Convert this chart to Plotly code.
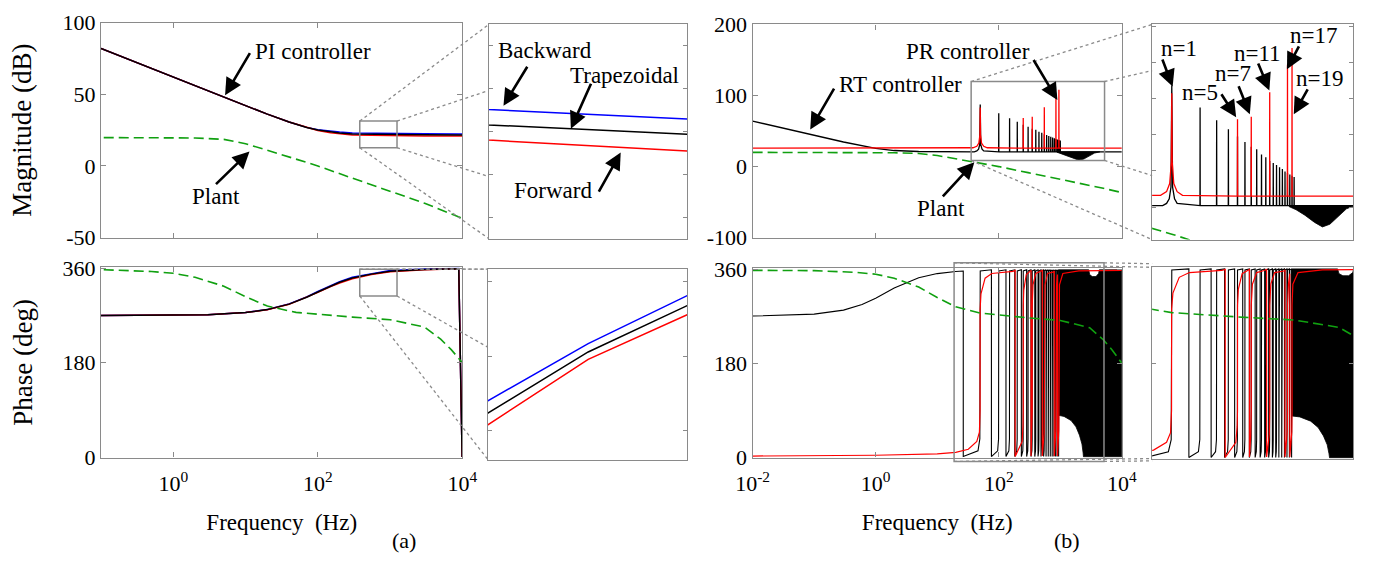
import math
import plotly.graph_objects as go

W, H = 1384, 571
FONT = "Liberation Serif, Times New Roman, serif"
GRAY = "#8a8a8a"
GREEN = "#10a010"

# ---------------- (a) PI controller (three discretisations) ----------------
f_pi = [0.1, 0.3, 1, 3, 10, 20, 40, 70, 100, 150, 200, 300, 550, 1000, 3000, 8900, 9900]
pi_mag_backward = [82.0, 72.5, 62.0, 52.5, 42.0, 36.1, 30.6, 26.9, 25.3, 24.1, 23.6, 23.03, 22.80, 22.58, 22.4, 22.3, 22.3]
pi_mag_trapezoidal = [82.0, 72.5, 62.0, 52.5, 42.0, 36.1, 30.6, 26.8, 25.0, 23.6, 23.0, 22.31, 22.08, 21.87, 21.7, 21.6, 21.6]
pi_mag_forward = [82.0, 72.5, 62.0, 52.5, 42.0, 36.1, 30.6, 26.7, 24.7, 23.1, 22.4, 21.60, 21.35, 21.09, 20.9, 20.8, 20.8]
pi_ph_backward = [270.1, 270.2, 270.6, 271.7, 275.8, 281.5, 292.2, 305.6, 315.8, 327.3, 334.6, 343.1, 350.0, 355.8, 358.8, 359.6, 0.0]
pi_ph_trapezoidal = [270.1, 270.2, 270.6, 271.7, 275.7, 281.3, 291.8, 305.0, 315.0, 326.3, 333.4, 341.6, 349.0, 354.6, 358.0, 359.4, 0.0]
pi_ph_forward = [270.1, 270.2, 270.6, 271.6, 275.6, 281.1, 291.4, 304.4, 314.2, 325.3, 332.2, 340.2, 348.1, 353.5, 357.2, 359.2, 0.0]

# ---------------- plant (both panels) ----------------
f_plant = [0.01, 0.1, 0.5, 1, 2, 5, 10, 20, 50, 100, 300, 1000, 3000, 5000, 7000, 10000]
plant_mag = [20.0, 20.0, 19.9, 19.8, 19.5, 18.5, 15.5, 11.0, 5.0, 0.0, -8.5, -17.5, -26.0, -30.5, -33.5, -36.5]
plant_ph = [358, 357.5, 354, 350.6, 343, 326, 306, 288, 276, 272, 267, 262, 248, 225, 205, 180]

# ---------------- (b) RT controller ----------------
fund = 50.0  # Hz
rt_f_low = [0.01, 0.03, 0.1, 0.3, 1, 2, 5, 10, 20, 40]
rt_mag_low = [64.0, 54.4, 44.0, 34.6, 25.7, 22.6, 21.2, 20.9, 20.8, 20.8]
rt_base = 20.8
rt_order = list(range(1, 21))
rt_peak = [87.4, 75.0, 68.0, 63.0, 59.0, 56.0, 53.3, 52.0, 49.0, 47.6,
           45.5, 44.4, 43.2, 42.0, 41.0, 39.7, 38.8, 38.0, 37.3, 36.6]
rt_n1_f = [44, 47, 49, 50, 51, 53.5, 57]
rt_n1_mag = [22.0, 24.5, 31.0, 87.4, 31.0, 24.5, 22.0]
rt_dip_f = [880, 1050, 1300, 1650, 2000, 2400, 2900, 3600, 4400]
rt_dip_mag = [20.3, 18.5, 15.5, 11.5, 9.0, 10.5, 14.5, 19.0, 20.8]

rt_ph_f_low = [0.01, 0.1, 0.3, 0.6, 1, 2, 5, 10, 20, 26.5]
rt_ph_low = [270.4, 274.0, 281.7, 292.5, 304.7, 324.2, 343.9, 351.8, 355.9, 356.8]
rt_wrap_f = [26.5, 76, 131, 182, 233, 284, 334, 385, 435, 486, 536, 587, 637, 688, 738, 789, 839, 890, 940]
rt_ph_top, rt_ph_bottom = 359.0, 1.0
rt_pre_df = [4.0, 0.7]
rt_pre_ph = [12.0, 35.0]
rt_dense_f = [940, 2900, 3000, 3300, 3800, 4200, 4300, 10000, 10000, 2380, 2350, 2250, 2050, 1800, 1500, 1150, 940]
rt_dense_ph = [359, 359, 350, 346, 346, 352, 359, 359, 0.5, 0.5, 8, 25, 42, 58, 70, 78, 80]

# ---------------- (b) PR controller ----------------
pr_base = 26.0
pr_order = [1, 5, 7, 11, 17, 19]
pr_peak = [83.0, 68.5, 70.0, 83.5, 98.7, 108.0]
pr_n1_f = [38, 44, 47.5, 49.5, 50, 50.5, 52.5, 57, 65]
pr_n1_mag = [26.5, 28.5, 33.0, 45.0, 83.0, 45.0, 33.0, 28.5, 26.5]
pr_ph_f = [0.01, 1, 10, 20, 32, 44, 48.5, 49.7, 49.8, 51.4, 60, 77, 170, 185, 185, 240, 248, 249.9, 250.1,
           255, 280, 320, 335, 335, 345, 349.9, 350.1, 360, 400, 480, 510, 510, 545, 549.9, 550.1, 565,
           620, 780, 800, 800, 845, 849.9, 850.1, 870, 890, 900, 900, 945, 949.9, 950.1, 970, 1100, 2000, 10000]
pr_ph = [2, 3.5, 6, 9, 15, 30, 48, 90, 283, 313, 343, 352, 356, 358, 1, 30, 60, 90, 290,
         320, 350, 356, 358, 2, 40, 90, 290, 330, 352, 356, 358, 2, 45, 90, 290, 330,
         352, 355, 357, 2, 50, 90, 290, 330, 345, 350, 2, 50, 90, 290, 330, 352, 357, 358]

# zoom windows drawn in the main plots
zoom_a_f, zoom_a_mag, zoom_a_ph = [380, 1245], [12.7, 31.3], [307.3, 358.4]
zoom_b_f, zoom_b_mag = [35.6, 5240], [8.6, 119.7]
zoom_b_phf, zoom_b_ph = [18.8, 5130], [-8.3, 372.4]


# ---------------- build helper series ----------------
def spike_series(f_lo, v_lo, orders, peaks, base, n1_f, n1_v, f_end):
    xs, ys = list(f_lo), list(v_lo)
    for n, pk in zip(orders, peaks):
        fn = fund * n
        if n == 1:
            xs += n1_f
            ys += n1_v
        else:
            xs += [fn * 0.997, fn, fn * 1.003]
            ys += [base, pk, base]
    xs.append(f_end)
    ys.append(base)
    return xs, ys


rt_mag_x, rt_mag_y = spike_series(rt_f_low, rt_mag_low, rt_order, rt_peak, rt_base, rt_n1_f, rt_n1_mag, 10000)
pr_mag_x, pr_mag_y = spike_series([0.01], [pr_base], pr_order, pr_peak, pr_base, pr_n1_f, pr_n1_mag, 10000)
dip_x = rt_dip_f + rt_dip_f[::-1]
dip_y = [rt_base] * len(rt_dip_f) + rt_dip_mag[::-1]

rt_ph_x, rt_ph_y = list(rt_ph_f_low), list(rt_ph_low)
for i, n in enumerate(range(1, 20)):
    fn = fund * n
    rt_ph_x += [rt_wrap_f[i], fn - rt_pre_df[0], fn - rt_pre_df[1], fn]
    rt_ph_y += [rt_ph_bottom, rt_pre_ph[0], rt_pre_ph[1], rt_ph_top - 2]
    if i + 1 < len(rt_wrap_f):
        rt_ph_x += [rt_wrap_f[i + 1]]
        rt_ph_y += [rt_ph_top]

# ---------------- axes geometry ----------------
def dom_x(a, b):
    return [a / W, b / W]


def dom_y(top, bottom):
    return [1 - bottom / H, 1 - top / H]


AX = {
    1: dict(xd=dom_x(86, 456), yd=dom_y(11, 236), xr=[-1.0, 4.0005], yr=[-50, 100]),
    2: dict(xd=dom_x(483, 686), yd=dom_y(13, 237), xr=[math.log10(300), 3.0], yr=[17, 27]),
    3: dict(xd=dom_x(86, 456), yd=dom_y(267, 466), xr=[-1.0, 4.0005], yr=[-1, 362]),
    4: dict(xd=dom_x(482, 686), yd=dom_y(269, 468), xr=[math.log10(300), 3.0], yr=[336, 359]),
    5: dict(xd=dom_x(753, 1131), yd=dom_y(13, 236), xr=[-2.0005, 4.0005], yr=[-100, 200]),
    6: dict(xd=dom_x(1162, 1368), yd=dom_y(13, 238), xr=[1.49, 3.63], yr=[2, 121]),
    7: dict(xd=dom_x(753, 1131), yd=dom_y(268, 466), xr=[-2.0005, 4.0005], yr=[-1, 362]),
    8: dict(xd=dom_x(1162, 1368), yd=dom_y(267, 467), xr=[1.49, 3.63], yr=[-1, 362]),
}


def to_paper(k, f, v):
    a = AX[k]
    lx = math.log10(f)
    X = a['xd'][0] + (lx - a['xr'][0]) / (a['xr'][1] - a['xr'][0]) * (a['xd'][1] - a['xd'][0])
    Y = a['yd'][0] + (v - a['yr'][0]) / (a['yr'][1] - a['yr'][0]) * (a['yd'][1] - a['yd'][0])
    return X, Y


fig = go.Figure()


def add(k, x, y, color, width=1.5, dash=None, fill=None, fillcolor=None):
    ax = '' if k == 1 else str(k)
    fig.add_trace(go.Scatter(x=x, y=y, mode='lines', xaxis='x' + ax, yaxis='y' + ax,
                             line=dict(color=color, width=width, dash=dash),
                             fill=fill, fillcolor=fillcolor, hoverinfo='skip'))


# (a) magnitude + inset
for k in (1, 2):
    add(k, f_pi, pi_mag_backward, '#0000ff')
    add(k, f_pi, pi_mag_forward, '#ff0000')
    add(k, f_pi, pi_mag_trapezoidal, '#000000')
    add(k, f_plant, plant_mag, GREEN, 1.6, '10px,5px')
# (a) phase + inset
for k in (3, 4):
    add(k, f_pi, pi_ph_backward, '#0000ff')
    add(k, f_pi, pi_ph_forward, '#ff0000')
    add(k, f_pi, pi_ph_trapezoidal, '#000000')
    add(k, f_plant, plant_ph, GREEN, 1.6, '10px,5px')
# (b) magnitude + inset
for k in (5, 6):
    add(k, dip_x, dip_y, '#000000', 0.8, fill='toself', fillcolor='#000000')
    add(k, rt_mag_x, rt_mag_y, '#000000', 1.3)
    add(k, pr_mag_x, pr_mag_y, '#ff0000', 1.3)
    add(k, f_plant, plant_mag, GREEN, 1.6, '10px,5px')
# (b) phase + inset
for k in (7, 8):
    add(k, rt_dense_f, rt_dense_ph, '#000000', 0.8, fill='toself', fillcolor='#000000')
    add(k, rt_ph_x, rt_ph_y, '#000000', 1.1)
    add(k, pr_ph_f, pr_ph, '#ff0000', 1.2)
    add(k, f_plant, plant_ph, GREEN, 1.6, '10px,5px')

tickfont = dict(family=FONT, size=22, color='black')


def sup(n):
    return '10<sup>%d</sup>' % n


layout = dict(width=W, height=H, margin=dict(l=0, r=0, t=0, b=0), showlegend=False,
              paper_bgcolor='white', plot_bgcolor='white', font=dict(family=FONT, color='black'))

for k, a in AX.items():
    sx = '' if k == 1 else str(k)
    main = k in (1, 3, 5, 7)
    xa = dict(domain=a['xd'], range=a['xr'], type='log', anchor='y' + sx, showline=True, mirror=True,
              linecolor=GRAY, linewidth=1.3, showgrid=False, zeroline=False, fixedrange=True)
    ya = dict(domain=a['yd'], range=a['yr'], anchor='x' + sx, showline=True, mirror=True,
              linecolor=GRAY, linewidth=1.3, showgrid=False, zeroline=False, fixedrange=True)
    if main:
        if k in (1, 3):
            xt = [1, 100, 10000]
        else:
            xt = [0.01, 1, 100, 10000]
        xa.update(ticks='inside', mirror='ticks', ticklen=5, tickcolor=GRAY, tickvals=xt,
                  ticktext=[sup(round(math.log10(v))) for v in xt], showticklabels=k in (3, 7),
                  tickfont=tickfont, ticklabelstandoff=6)
        if k == 1:
            yt = [-50, 0, 50, 100]
        elif k == 5:
            yt = [-100, 0, 100, 200]
        else:
            yt = [0, 180, 360]
        ya.update(ticks='inside', mirror='ticks', ticklen=5, tickcolor=GRAY, tickvals=yt,
                  ticktext=[str(v) for v in yt], tickfont=tickfont)
        if k in (3, 7):
            xa['title'] = dict(text='Frequency\u00a0 (Hz)', font=dict(family=FONT, size=23), standoff=18)
        if k == 1:
            ya['title'] = dict(text='Magnitude (dB)', font=dict(family=FONT, size=27), standoff=22)
        if k == 3:
            ya['title'] = dict(text='Phase (deg)', font=dict(family=FONT, size=27), standoff=22)
    else:
        xa.update(ticks='', showticklabels=False)
        if k == 2:
            yt = [18, 20, 22, 24, 26]
        elif k == 4:
            yt = [339.5, 348.5, 357.5]
        elif k == 6:
            yt = [20, 40, 60, 80, 100, 120]
        else:
            yt = [180]
        ya.update(ticks='inside', mirror='ticks', ticklen=4, tickcolor=GRAY, tickvals=yt,
                  showticklabels=False)
    layout['xaxis' + sx] = xa
    layout['yaxis' + sx] = ya

fig.update_layout(**layout)

# ---------------- zoom boxes and connectors ----------------
shapes = []


def box_and_links(k_main, k_inset, fr, vr):
    x0, y0 = to_paper(k_main, fr[0], vr[0])
    x1, y1 = to_paper(k_main, fr[1], vr[1])
    shapes.append(dict(type='rect', xref='paper', yref='paper', x0=x0, y0=y0, x1=x1, y1=y1,
                       line=dict(color=GRAY, width=1.5)))
    a = AX[k_inset]
    ix0, ix1 = a['xd']
    iy0, iy1 = a['yd']
    links = [((x0, y1), (ix0, iy1)), ((x0, y0), (ix0, iy0))]
    for (sx_, sy_), (ex, ey) in [((x1, y1), (ix1, iy1)), ((x1, y0), (ix1, iy0))]:
        t = (ix0 - sx_) / (ex - sx_)
        links.append(((sx_, sy_), (ix0, sy_ + t * (ey - sy_))))
    for (ax_, ay_), (bx, by) in links:
        shapes.append(dict(type='line', xref='paper', yref='paper', x0=ax_, y0=ay_, x1=bx, y1=by,
                           line=dict(color=GRAY, width=1.3, dash='dot')))


box_and_links(1, 2, zoom_a_f, zoom_a_mag)
box_and_links(3, 4, zoom_a_f, zoom_a_ph)
box_and_links(5, 6, zoom_b_f, zoom_b_mag)
box_and_links(7, 8, zoom_b_phf, zoom_b_ph)
fig.update_layout(shapes=shapes)

# ---------------- annotations ----------------
anns = []


def label(text, cx, cy, size=23):
    anns.append(dict(text=text, x=cx / W, y=1 - cy / H, xref='paper', yref='paper', showarrow=False,
                     font=dict(family=FONT, size=size, color='black'), xanchor='center', yanchor='middle'))


def arrow(tip, tail):
    anns.append(dict(text=' ', x=tip[0] / W, y=1 - tip[1] / H, xref='paper', yref='paper', showarrow=True,
                     ax=tail[0] - tip[0], ay=tail[1] - tip[1], axref='pixel', ayref='pixel',
                     font=dict(size=1), arrowhead=2, arrowsize=1.3, arrowwidth=2.6,
                     arrowcolor='black', standoff=0))


label('PI controller', 303, 41); arrow((213, 87), (239, 43))
label('Plant', 204, 193); arrow((238, 146), (203, 180))
label('Backward', 540, 40); arrow((498, 98), (523, 57))
label('Trapezoidal', 622, 66); arrow((567, 122), (588, 75))
label('Forward', 549, 187); arrow((618, 147), (595, 188))
label('RT controller', 904, 76); arrow((812, 123), (837, 80))
label('PR controller', 973, 41); arrow((1065, 92), (1040, 50))
label('Plant', 946, 205); arrow((980, 157), (947, 193))
label('n=1', 1189, 38); arrow((1183, 78), (1172, 49))
label('n=5', 1211, 84); arrow((1248, 110), (1232, 85))
label('n=7', 1245, 64); arrow((1262, 107), (1250, 77))
label('n=11', 1270, 43); arrow((1282, 82), (1270, 53))
label('n=17', 1327, 25); arrow((1300, 60), (1313, 35))
label('n=19', 1333, 70); arrow((1307, 107), (1322, 80))
label('(a)', 396, 553, 22)
label('(b)', 1075, 553, 22)
fig.update_layout(annotations=anns)

fig.write_html("out.html")
